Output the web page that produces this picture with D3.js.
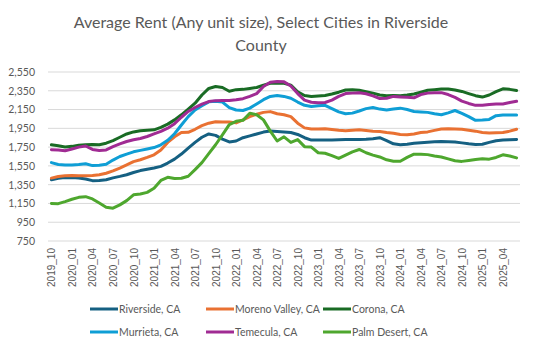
<!DOCTYPE html>
<html>
<head>
<meta charset="utf-8">
<script src="https://cdn.jsdelivr.net/npm/d3@7"></script>
<style>
  body { margin: 0; background: #fff; }
  svg { display: block; }
</style>
</head>
<body>
<div id="chart"></div>
<script>
const months = [
    "2019_10", "2019_11", "2019_12",
    "2020_01", "2020_02", "2020_03", "2020_04", "2020_05", "2020_06", "2020_07", "2020_08", "2020_09", "2020_10", "2020_11", "2020_12",
    "2021_01", "2021_02", "2021_03", "2021_04", "2021_05", "2021_06", "2021_07", "2021_08", "2021_09", "2021_10", "2021_11", "2021_12",
    "2022_01", "2022_02", "2022_03", "2022_04", "2022_05", "2022_06", "2022_07", "2022_08", "2022_09", "2022_10", "2022_11", "2022_12",
    "2023_01", "2023_02", "2023_03", "2023_04", "2023_05", "2023_06", "2023_07", "2023_08", "2023_09", "2023_10", "2023_11", "2023_12",
    "2024_01", "2024_02", "2024_03", "2024_04", "2024_05", "2024_06", "2024_07", "2024_08", "2024_09", "2024_10", "2024_11", "2024_12",
    "2025_01", "2025_02", "2025_03", "2025_04", "2025_05", "2025_06"
];

const riverside = [1402, 1418, 1425, 1425, 1420, 1410, 1393, 1395, 1402, 1422, 1438, 1456, 1480, 1500, 1515, 1527, 1545, 1580, 1622, 1676, 1740, 1800, 1855, 1890, 1875, 1835, 1805, 1815, 1850, 1870, 1890, 1910, 1922, 1917, 1912, 1905, 1885, 1850, 1825, 1825, 1826, 1826, 1828, 1830, 1832, 1830, 1834, 1840, 1850, 1820, 1785, 1775, 1780, 1790, 1797, 1802, 1806, 1810, 1808, 1804, 1795, 1785, 1778, 1780, 1800, 1818, 1825, 1828, 1832];
const morenoValley = [1420, 1437, 1445, 1448, 1445, 1445, 1448, 1456, 1472, 1497, 1527, 1560, 1595, 1615, 1640, 1668, 1720, 1800, 1860, 1905, 1908, 1940, 1978, 2005, 2020, 2018, 2018, 2008, 2040, 2075, 2100, 2120, 2128, 2105, 2095, 2075, 2005, 1955, 1942, 1943, 1945, 1938, 1930, 1924, 1930, 1934, 1928, 1920, 1917, 1905, 1898, 1885, 1882, 1890, 1905, 1912, 1928, 1942, 1946, 1944, 1940, 1930, 1920, 1906, 1900, 1903, 1905, 1920, 1940];
const corona = [1775, 1765, 1752, 1758, 1770, 1775, 1778, 1776, 1792, 1820, 1855, 1890, 1912, 1924, 1930, 1934, 1960, 1995, 2040, 2094, 2155, 2218, 2305, 2375, 2395, 2385, 2345, 2362, 2365, 2375, 2385, 2410, 2430, 2430, 2430, 2410, 2340, 2300, 2290, 2295, 2300, 2315, 2335, 2358, 2360, 2355, 2340, 2325, 2305, 2297, 2300, 2298, 2305, 2315, 2335, 2355, 2362, 2370, 2370, 2358, 2343, 2320, 2298, 2283, 2305, 2340, 2371, 2365, 2354];
const murrieta = [1585, 1565, 1560, 1560, 1565, 1572, 1553, 1558, 1567, 1612, 1650, 1676, 1700, 1715, 1730, 1745, 1775, 1822, 1892, 1985, 2075, 2145, 2190, 2232, 2238, 2230, 2170, 2145, 2140, 2165, 2210, 2255, 2290, 2300, 2290, 2270, 2230, 2195, 2183, 2190, 2195, 2160, 2125, 2105, 2112, 2135, 2160, 2172, 2155, 2145, 2155, 2165, 2150, 2130, 2125, 2120, 2105, 2095, 2115, 2140, 2110, 2075, 2035, 2038, 2045, 2085, 2092, 2093, 2093];
const temecula = [1722, 1720, 1712, 1730, 1750, 1762, 1725, 1715, 1720, 1755, 1785, 1810, 1828, 1842, 1863, 1890, 1917, 1952, 2000, 2068, 2130, 2172, 2207, 2235, 2245, 2246, 2246, 2254, 2266, 2290, 2320, 2395, 2440, 2449, 2445, 2400, 2320, 2250, 2228, 2222, 2225, 2250, 2290, 2320, 2325, 2330, 2318, 2295, 2268, 2270, 2290, 2285, 2280, 2275, 2310, 2325, 2330, 2330, 2310, 2280, 2240, 2215, 2195, 2195, 2205, 2208, 2210, 2225, 2238];
const palmDesert = [1150, 1148, 1170, 1195, 1215, 1222, 1198, 1155, 1110, 1100, 1135, 1180, 1242, 1250, 1268, 1312, 1395, 1428, 1415, 1418, 1440, 1510, 1585, 1680, 1775, 1880, 1990, 2025, 2035, 2110, 2095, 2040, 1920, 1815, 1860, 1800, 1830, 1755, 1750, 1690, 1685, 1660, 1630, 1665, 1700, 1725, 1690, 1665, 1645, 1615, 1600, 1600, 1640, 1675, 1675, 1670, 1655, 1645, 1625, 1605, 1598, 1608, 1618, 1625, 1622, 1640, 1668, 1655, 1635];

const seriesNames = ["Riverside, CA", "Moreno Valley, CA", "Corona, CA", "Murrieta, CA", "Temecula, CA", "Palm Desert, CA"];
const seriesValues = [riverside, morenoValley, corona, murrieta, temecula, palmDesert];
const seriesColors = ["#156082", "#E97132", "#196B24", "#0F9ED5", "#A02B93", "#4EA72E"];

const yTicks = [750, 950, 1150, 1350, 1550, 1750, 1950, 2150, 2350, 2550];
const titleLines = ["Average Rent (Any unit size), Select Cities in Riverside", "County"];

const width = 535, height = 350;
const margin = { top: 72, right: 15, bottom: 109, left: 48 };
const textColor = "#595959";

const svg = d3.select("#chart")
    .append("svg")
    .attr("width", width)
    .attr("height", height);

const x = d3.scalePoint()
    .domain(months)
    .range([margin.left, width - margin.right])
    .padding(0.5);

const y = d3.scaleLinear()
    .domain([750, 2550])
    .range([height - margin.bottom, margin.top]);

// Title
svg.append("g")
    .selectAll("text")
    .data(titleLines)
    .join("text")
    .attr("x", 261)
    .attr("y", (d, i) => 28 + i * 23)
    .attr("text-anchor", "middle")
    .style("font-family", "Lato, 'Open Sans', sans-serif")
    .style("font-size", "16px")
    .style("fill", textColor)
    .text(d => d);

// gridlines
svg.append("g")
    .selectAll("line")
    .data(yTicks)
    .join("line")
    .attr("x1", margin.left)
    .attr("x2", width - margin.right)
    .attr("y1", d => y(d))
    .attr("y2", d => y(d))
    .style("stroke", "#D9D9D9")
    .style("stroke-width", 1);

// Y axis labels
const yAxis = svg.append("g")
    .attr("transform", `translate(${margin.left - 4},0)`)
    .call(d3.axisLeft(y).tickValues(yTicks).tickSize(0).tickPadding(9).tickFormat(d3.format(",")));
yAxis.select(".domain").remove();
yAxis.selectAll("text")
    .style("font-family", "Lato, sans-serif")
    .style("font-size", "10.5px")
    .style("fill", textColor);

// X axis labels, every third month
const xAxis = svg.append("g")
    .attr("transform", `translate(0,${height - margin.bottom})`)
    .call(d3.axisBottom(x).tickValues(months.filter((d, i) => i % 3 === 0)).tickSize(0));
xAxis.select(".domain").remove();
xAxis.selectAll("text")
    .attr("transform", "rotate(-90)")
    .attr("x", -7)
    .attr("y", 0)
    .attr("dy", "0.35em")
    .style("text-anchor", "end")
    .style("font-family", "'Liberation Sans', Arial, sans-serif")
    .style("font-size", "10px")
    .style("fill", textColor);

// Lines
const line = d3.line()
    .x((d, i) => x(months[i]))
    .y(d => y(d));

svg.append("g")
    .selectAll("path")
    .data(seriesValues)
    .join("path")
    .attr("d", d => line(d))
    .style("fill", "none")
    .style("stroke", (d, i) => seriesColors[i])
    .style("stroke-width", 3)
    .style("stroke-linejoin", "round")
    .style("stroke-linecap", "round");

// Legend
const legendCols = [90, 206, 323];
const legendRows = [309, 332];
const legend = svg.append("g")
    .selectAll("g")
    .data(seriesNames)
    .join("g")
    .attr("transform", (d, i) => `translate(${legendCols[i % 3]},${legendRows[Math.floor(i / 3)]})`);

legend.append("line")
    .attr("x1", 0)
    .attr("x2", 28)
    .style("stroke", (d, i) => seriesColors[i])
    .style("stroke-width", 3);

legend.append("text")
    .attr("x", 29)
    .attr("dy", "0.35em")
    .style("font-family", "Lato, sans-serif")
    .style("font-size", "10.5px")
    .style("fill", textColor)
    .text(d => d);
</script>
</body>
</html>
